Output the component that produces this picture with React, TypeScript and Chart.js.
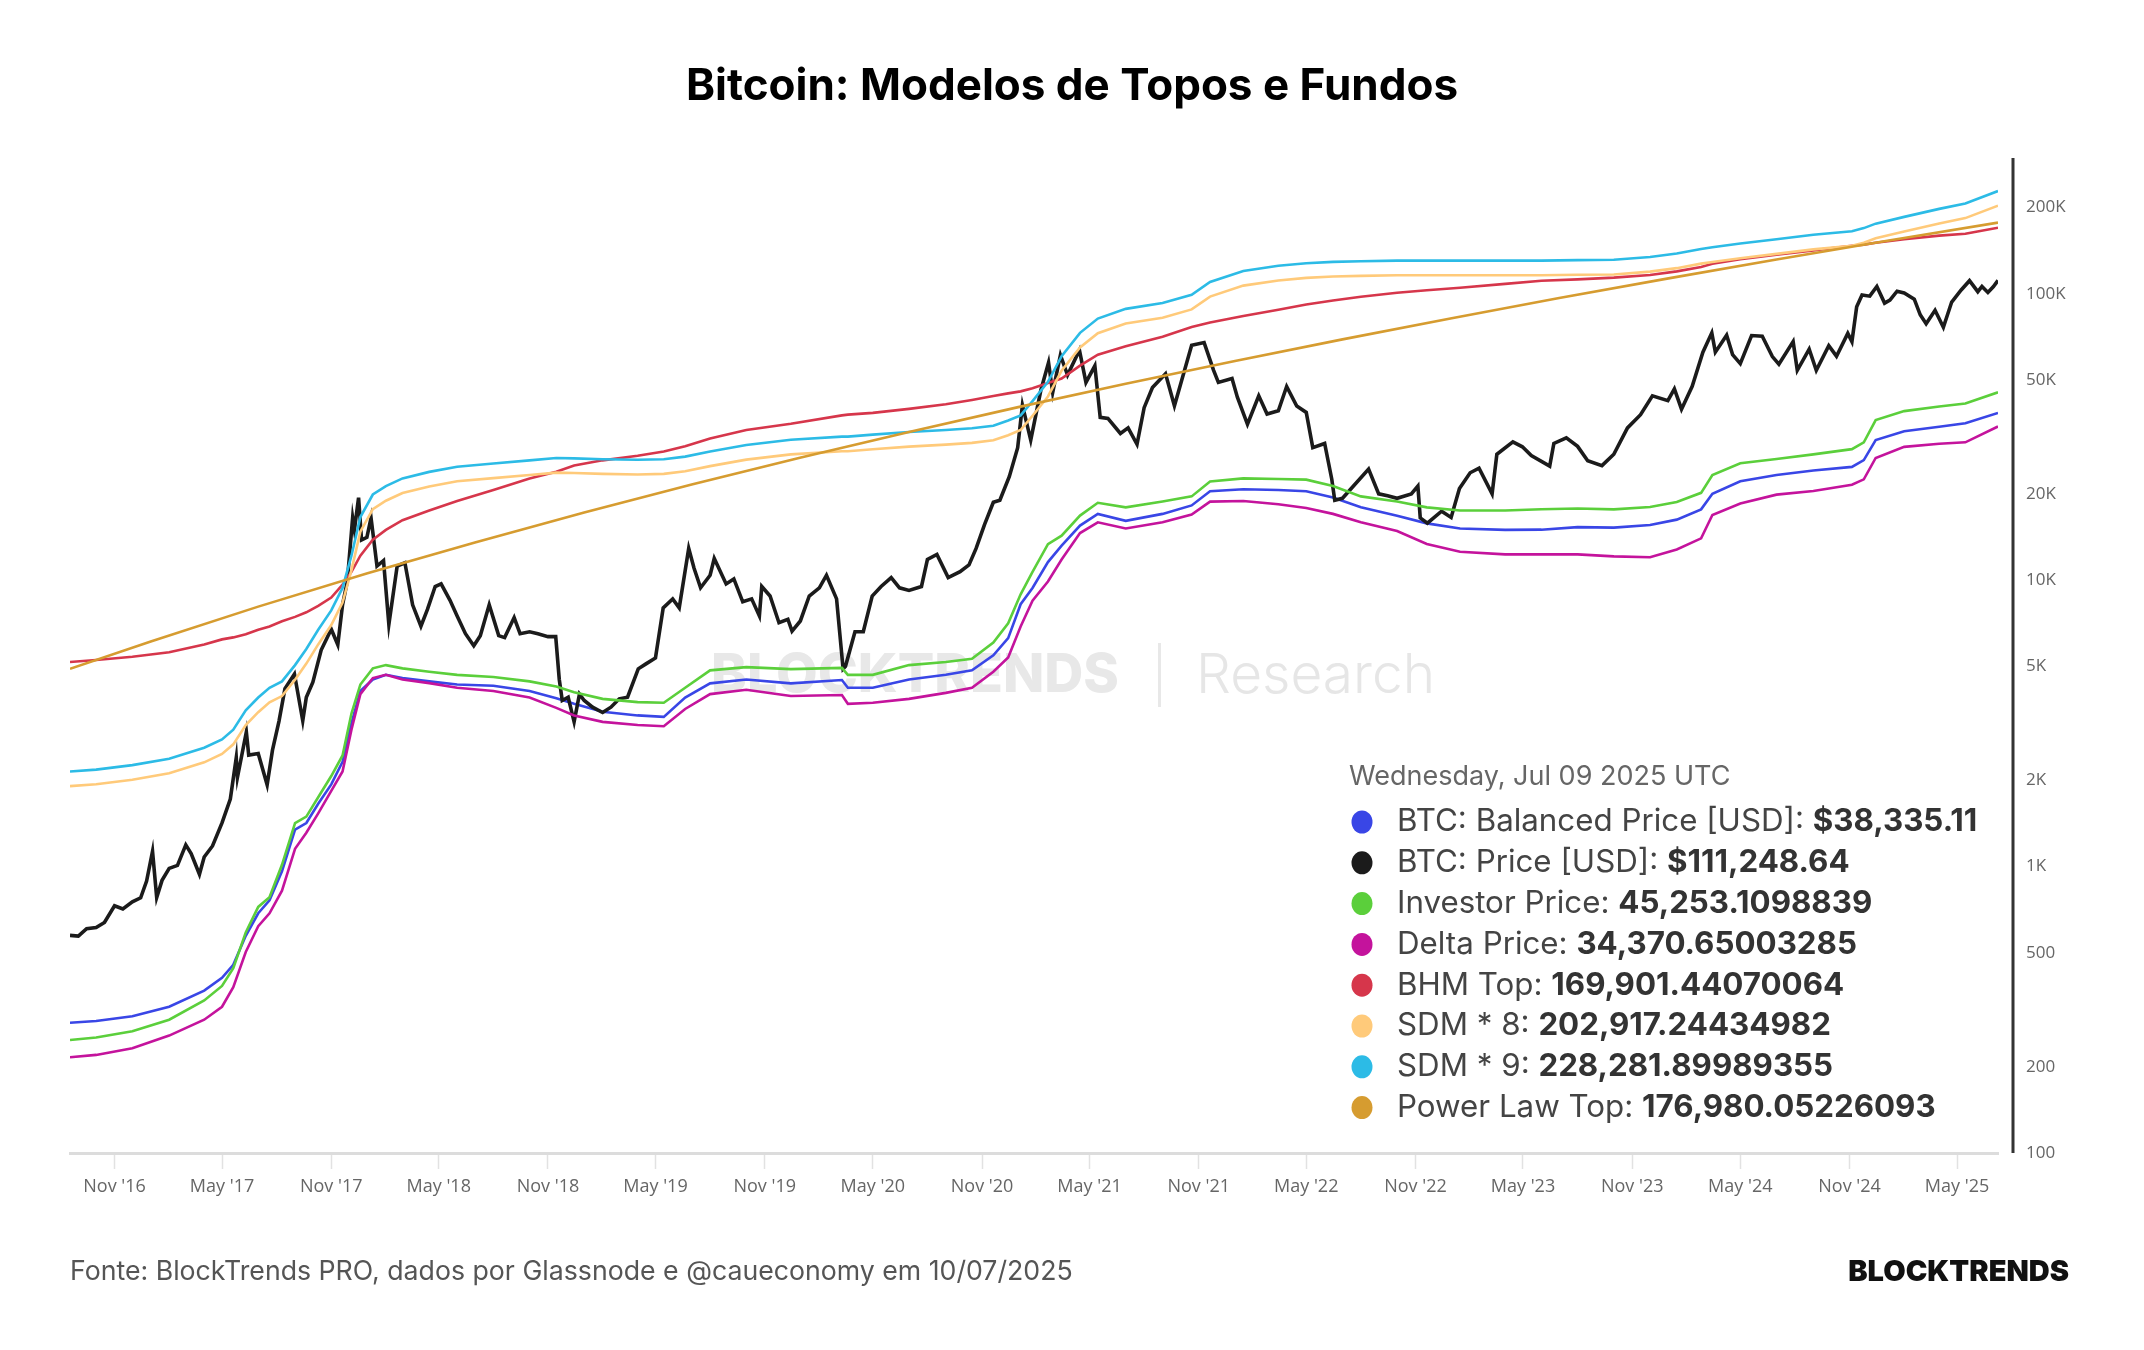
import { useEffect, useRef } from "react";
import { Chart, registerables } from "chart.js";

Chart.register(...registerables);

const W = 2144;
const H = 1350;

// ---------------- BTC spot price (USD) ----------------
const priceDates = [
  "2016-08-18", "2016-09-01", "2016-09-15", "2016-10-01", "2016-10-15", "2016-11-01", "2016-11-15", "2016-12-01", "2016-12-15", "2016-12-25",
  "2017-01-04", "2017-01-11", "2017-01-20", "2017-02-01", "2017-02-15", "2017-03-01", "2017-03-10", "2017-03-24", "2017-04-01", "2017-04-15",
  "2017-05-01", "2017-05-15", "2017-05-25", "2017-05-27", "2017-06-11", "2017-06-15", "2017-07-01", "2017-07-16", "2017-07-25", "2017-08-05",
  "2017-08-15", "2017-08-31", "2017-09-14", "2017-09-20", "2017-10-01", "2017-10-15", "2017-11-01", "2017-11-12", "2017-11-20", "2017-11-28",
  "2017-12-07", "2017-12-10", "2017-12-17", "2017-12-22", "2017-12-31",
  "2018-01-07", "2018-01-17", "2018-01-28", "2018-02-06", "2018-02-20", "2018-03-05", "2018-03-18", "2018-04-01", "2018-04-12", "2018-04-25",
  "2018-05-05", "2018-05-20", "2018-06-01", "2018-06-15", "2018-06-29", "2018-07-10", "2018-07-25", "2018-08-10", "2018-08-20", "2018-09-05",
  "2018-09-15", "2018-10-01", "2018-10-15", "2018-11-01", "2018-11-14", "2018-11-20", "2018-11-25", "2018-12-05", "2018-12-15", "2018-12-24",
  "2019-01-01", "2019-01-15", "2019-02-01", "2019-02-15", "2019-03-01", "2019-03-15", "2019-04-02", "2019-04-15", "2019-05-01", "2019-05-14",
  "2019-05-30", "2019-06-10", "2019-06-26", "2019-07-05", "2019-07-16", "2019-08-01", "2019-08-08", "2019-08-28", "2019-09-10", "2019-09-25",
  "2019-10-10", "2019-10-23", "2019-10-27", "2019-11-10", "2019-11-25", "2019-12-10", "2019-12-17", "2019-12-31",
  "2020-01-15", "2020-02-01", "2020-02-13", "2020-03-01", "2020-03-12", "2020-03-16", "2020-04-01", "2020-04-15", "2020-04-30", "2020-05-15",
  "2020-06-01", "2020-06-15", "2020-07-01", "2020-07-22", "2020-08-01", "2020-08-17", "2020-09-05", "2020-09-25", "2020-10-10", "2020-10-22",
  "2020-11-05", "2020-11-20", "2020-12-01", "2020-12-17", "2020-12-31",
  "2021-01-08", "2021-01-22", "2021-02-08", "2021-02-21", "2021-02-28", "2021-03-13", "2021-03-25", "2021-04-14", "2021-04-25", "2021-05-10",
  "2021-05-19", "2021-06-01", "2021-06-22", "2021-07-05", "2021-07-20", "2021-08-01", "2021-08-15", "2021-09-06", "2021-09-21", "2021-10-01",
  "2021-10-20", "2021-11-10", "2021-11-26", "2021-12-04", "2021-12-27",
  "2022-01-05", "2022-01-22", "2022-02-10", "2022-02-24", "2022-03-15", "2022-03-29", "2022-04-15", "2022-05-01", "2022-05-12", "2022-06-01",
  "2022-06-13", "2022-06-18", "2022-07-01", "2022-07-15", "2022-08-14", "2022-08-31", "2022-09-15", "2022-10-01", "2022-10-25", "2022-11-05",
  "2022-11-09", "2022-11-21", "2022-12-15", "2022-12-31",
  "2023-01-14", "2023-02-01", "2023-02-16", "2023-03-10", "2023-03-18", "2023-04-14", "2023-04-30", "2023-05-15", "2023-06-15", "2023-06-22",
  "2023-07-13", "2023-08-01", "2023-08-18", "2023-09-11", "2023-10-01", "2023-10-24", "2023-11-15", "2023-12-05", "2023-12-31",
  "2024-01-11", "2024-01-23", "2024-02-10", "2024-02-28", "2024-03-14", "2024-03-20", "2024-04-08", "2024-04-18", "2024-05-01", "2024-05-20",
  "2024-06-07", "2024-06-24", "2024-07-05", "2024-07-29", "2024-08-05", "2024-08-25", "2024-09-06", "2024-09-27", "2024-10-10", "2024-10-29",
  "2024-11-05", "2024-11-13", "2024-11-22", "2024-12-05", "2024-12-17", "2024-12-30",
  "2025-01-08", "2025-01-20", "2025-02-01", "2025-02-18", "2025-02-28", "2025-03-10", "2025-03-25", "2025-04-08", "2025-04-22", "2025-05-08",
  "2025-05-22", "2025-06-05", "2025-06-12", "2025-06-22", "2025-07-01", "2025-07-09",
];
const priceValues = [
  575, 572, 607, 613, 638, 730, 711, 753, 778, 890,
  1130, 780, 895, 985, 1010, 1190, 1110, 940, 1080, 1180,
  1420, 1720, 2400, 2050, 2950, 2450, 2480, 1930, 2550, 3220,
  4180, 4700, 3230, 3900, 4400, 5700, 6740, 5950, 8200, 9900,
  16500, 15000, 19400, 13800, 14100,
  16500, 11200, 11700, 7000, 11200, 11500, 8200, 6900, 7900, 9500,
  9700, 8500, 7500, 6500, 5900, 6400, 8200, 6400, 6300, 7400,
  6500, 6600, 6500, 6350, 6350, 4500, 3800, 3900, 3200, 4000,
  3800, 3600, 3450, 3600, 3850, 3900, 4900, 5100, 5350, 8000,
  8600, 8000, 12900, 11000, 9400, 10400, 11900, 9700, 10100, 8400,
  8600, 7500, 9500, 8800, 7100, 7300, 6640, 7200,
  8800, 9400, 10400, 8600, 4900, 5000, 6600, 6600, 8800, 9500,
  10200, 9400, 9200, 9500, 11800, 12300, 10200, 10700, 11300, 12900,
  15600, 18700, 19000, 23000, 29000,
  40800, 30800, 46000, 57500, 45200, 61000, 52000, 63500, 49000, 56000,
  37000, 36700, 32500, 34000, 29800, 40000, 47000, 52500, 40600, 48000,
  66000, 67500, 54000, 49000, 50600,
  43500, 35000, 44000, 38000, 39000, 47400, 40500, 38500, 29000, 30000,
  22500, 19000, 19300, 20800, 24400, 20000, 19700, 19300, 20000, 21300,
  16500, 15800, 17400, 16550,
  20900, 23700, 24600, 20000, 27500, 30400, 29200, 27200, 25000, 30000,
  31400, 29300, 26100, 25100, 27500, 34000, 37800, 44000, 42300,
  46500, 39500, 47500, 62500, 73000, 62500, 71600, 61300, 57000, 71400,
  71000, 60300, 56700, 68000, 54000, 64000, 54000, 65800, 60500, 72700,
  68000, 90000, 98900, 98000, 106000, 92700,
  95000, 102000, 100500, 95700, 84400, 78500, 87500, 76300, 93500, 103000,
  111000, 101600, 106000, 101000, 105700, 111248.64,
];

// ---------------- on-chain model levels (USD) ----------------
const modelDates = [
  "2016-08-18", "2016-10-01", "2016-12-01",
  "2017-02-01", "2017-04-01", "2017-05-01", "2017-05-20", "2017-06-10", "2017-07-01", "2017-07-20", "2017-08-10", "2017-09-01", "2017-09-20", "2017-10-10", "2017-11-01", "2017-11-20", "2017-12-05", "2017-12-20",
  "2018-01-10", "2018-02-01", "2018-03-01", "2018-04-15", "2018-06-01", "2018-08-01", "2018-10-01", "2018-11-15", "2018-12-15",
  "2019-02-01", "2019-04-01", "2019-05-15", "2019-06-20", "2019-08-01", "2019-10-01", "2019-12-15",
  "2020-03-10", "2020-03-20", "2020-05-01", "2020-07-01", "2020-09-01", "2020-10-15", "2020-11-20", "2020-12-15",
  "2021-01-05", "2021-01-25", "2021-02-20", "2021-03-15", "2021-04-15", "2021-05-15", "2021-07-01", "2021-09-01", "2021-10-20", "2021-11-20",
  "2022-01-15", "2022-03-15", "2022-05-01", "2022-06-15", "2022-08-01", "2022-10-01", "2022-11-20",
  "2023-01-15", "2023-04-01", "2023-06-01", "2023-08-01", "2023-10-01", "2023-12-01",
  "2024-01-15", "2024-02-25", "2024-03-15", "2024-05-01", "2024-07-01", "2024-09-01", "2024-11-05", "2024-11-25", "2024-12-15",
  "2025-02-01", "2025-04-01", "2025-05-15", "2025-07-09",
];
const sdm9Values = [
  2148, 2180, 2260,
  2380, 2600, 2780, 3005, 3510, 3890, 4210, 4430, 5050, 5750, 6710, 7840, 9390, 12170, 16600,
  19900, 21300, 22650, 23870, 24890, 25530, 26190, 26700, 26600,
  26430, 26300, 26430, 26980, 28120, 29640, 30900,
  31700, 31700, 32200, 32890, 33420, 33910, 34600, 36060,
  37600, 42170, 49230, 60540, 73000, 81850, 88500, 92700, 99150, 109900,
  120000, 125100, 127700, 129100, 129800, 130400, 130400,
  130400, 130400, 130400, 130900, 131300, 134300,
  138100, 143200, 145200, 149600, 154900, 160600, 165200, 169400, 175600,
  185400, 197700, 206500, 228281.89989355,
];
const sdm8Values = [
  1909, 1938, 2009,
  2116, 2311, 2471, 2671, 3120, 3458, 3742, 3938, 4489, 5111, 5964, 6969, 8347, 10818, 14756,
  17689, 18933, 20133, 21218, 22124, 22693, 23280, 23733, 23644,
  23493, 23378, 23493, 23982, 24996, 26347, 27467,
  28178, 28178, 28622, 29236, 29707, 30142, 30756, 32053,
  33422, 37484, 43760, 53813, 64889, 72756, 78667, 82400, 88133, 97689,
  106667, 111200, 113511, 114756, 115378, 115911, 115911,
  115911, 115911, 115911, 116356, 116711, 119378,
  122756, 127289, 129067, 132978, 137689, 142756, 146844, 150578, 156089,
  164800, 175733, 183556, 202917.24434982,
];
const bhmTopValues = [
  5180, 5260, 5400,
  5600, 5960, 6210, 6310, 6470, 6710, 6890, 7180, 7440, 7720, 8130, 8690, 9640, 10690, 12170,
  13850, 14970, 16190, 17500, 18900, 20640, 22650, 23900, 25120,
  26190, 27160, 28120, 29310, 31200, 33420, 35150,
  37600, 37810, 38370, 39610, 41090, 42560, 43950, 44870,
  45600, 46780, 48750, 50560, 56100, 61240, 65500, 70790, 76560, 79310,
  83560, 87900, 91650, 94600, 97500, 100700, 102800,
  104900, 108200, 110900, 112200, 113800, 116200,
  119600, 124000, 127100, 131800, 136700, 141600, 146900, 148300, 150600,
  154900, 159500, 161800, 169901.44070064,
];
const investorValues = [
  248, 253, 266,
  292, 341, 383, 442, 589, 723, 782, 1014, 1419, 1494, 1746, 2070, 2443, 3420, 4320,
  4920, 5050, 4920, 4790, 4670, 4590, 4430, 4250, 4060,
  3850, 3750, 3730, 4210, 4840, 4970, 4890,
  4940, 4670, 4670, 5050, 5180, 5310, 6050, 7070,
  8920, 10690, 13360, 14300, 16800, 18620, 17950, 18800, 19600, 22080,
  22650, 22540, 22430, 21300, 19600, 18800, 17950,
  17500, 17500, 17680, 17780, 17660, 17990,
  18750, 20170, 23290, 25580, 26490, 27480, 28660, 30270, 36210,
  38910, 40360, 41370, 45253.1098839,
];
const balancedValues = [
  285, 289, 300,
  324, 369, 409, 454, 573, 687, 762, 962, 1346, 1419, 1657, 1936, 2319, 3162, 4100,
  4500, 4670, 4550, 4430, 4320, 4280, 4100, 3870, 3700,
  3470, 3370, 3330, 3890, 4360, 4500, 4360,
  4480, 4210, 4210, 4500, 4670, 4840, 5460, 6270,
  8240, 9390, 11560, 13200, 15500, 17030, 16100, 17030, 18230, 20420,
  20750, 20640, 20420, 19410, 17950, 16780, 15780,
  15140, 14980, 15000, 15310, 15250, 15570,
  16260, 17660, 20030, 22130, 23290, 24150, 24850, 26240, 30830,
  33110, 34290, 35300, 38335.11,
];
const deltaValues = [
  216, 220, 232,
  257, 292, 324, 379, 503, 619, 687, 824, 1153, 1312, 1534, 1837, 2148, 3005, 4000,
  4550, 4670, 4500, 4370, 4210, 4100, 3890, 3580, 3370,
  3200, 3120, 3090, 3550, 4000, 4140, 3940,
  3970, 3700, 3730, 3850, 4040, 4210, 4790, 5370,
  6890, 8470, 9890, 11800, 14600, 15920, 15140, 15920, 16950, 18800,
  18890, 18410, 17860, 17030, 15920, 14830, 13370,
  12560, 12300, 12300, 12300, 12100, 12020,
  12790, 13990, 16870, 18500, 19880, 20460, 21520, 22480, 26690,
  29190, 29920, 30270, 34370.65003285,
];

// ---------------- power-law ceiling (USD) ----------------
const powerLawDates = [
  "2016-08-18", "2017-01-01", "2017-07-01", "2018-01-01", "2018-07-01", "2019-01-01", "2019-07-01",
  "2020-01-01", "2020-07-01", "2021-01-01", "2021-07-01", "2022-01-01", "2022-07-01", "2023-01-01",
  "2023-07-01", "2024-01-01", "2024-07-01", "2025-01-01", "2025-07-09",
];
const powerLawValues = [
  4900, 6110, 8080, 10560, 13540, 17210, 21560,
  26790, 32910, 40170, 48450, 58230, 69250, 82110,
  96520, 113100, 131600, 152700, 176980.05226093,
];

// ---------------- axes ----------------
const xTickDates = [
  "2016-11-01", "2017-05-01", "2017-11-01", "2018-05-01", "2018-11-01", "2019-05-01", "2019-11-01", "2020-05-01", "2020-11-01",
  "2021-05-01", "2021-11-01", "2022-05-01", "2022-11-01", "2023-05-01", "2023-11-01", "2024-05-01", "2024-11-01", "2025-05-01",
];
const xTickLabels = [
  "Nov '16", "May '17", "Nov '17", "May '18", "Nov '18", "May '19", "Nov '19", "May '20", "Nov '20",
  "May '21", "Nov '21", "May '22", "Nov '22", "May '23", "Nov '23", "May '24", "Nov '24", "May '25",
];
const yTickValues = [100, 200, 500, 1000, 2000, 5000, 10000, 20000, 50000, 100000, 200000];
const yTickLabels = ["100", "200", "500", "1K", "2K", "5K", "10K", "20K", "50K", "100K", "200K"];

// ---------------- texts ----------------
const titleText = "Bitcoin: Modelos de Topos e Fundos";
const legendDateText = "Wednesday, Jul 09 2025 UTC";
const sourceText = "Fonte: BlockTrends PRO, dados por Glassnode e @caueconomy em 10/07/2025";
const brandText = "BLOCKTRENDS";
const watermarkBrand = "BLOCKTRENDS";
const watermarkSub = "Research";

type SeriesDef = {
  name: string;
  color: string;
  width: number;
  dates: string[];
  values: number[];
  money?: boolean;
};

const series: SeriesDef[] = [
  { name: "BTC: Balanced Price [USD]", color: "#3946e6", width: 2.6, dates: modelDates, values: balancedValues, money: true },
  { name: "BTC: Price [USD]", color: "#1b1b1b", width: 3.6, dates: priceDates, values: priceValues, money: true },
  { name: "Investor Price", color: "#5bcf3b", width: 2.6, dates: modelDates, values: investorValues },
  { name: "Delta Price", color: "#c4139c", width: 2.6, dates: modelDates, values: deltaValues },
  { name: "BHM Top", color: "#d6364b", width: 2.6, dates: modelDates, values: bhmTopValues },
  { name: "SDM * 8", color: "#ffca7a", width: 2.6, dates: modelDates, values: sdm8Values },
  { name: "SDM * 9", color: "#2cbbe6", width: 2.6, dates: modelDates, values: sdm9Values },
  { name: "Power Law Top", color: "#d69c30", width: 2.6, dates: powerLawDates, values: powerLawValues },
];

const toXY = (dates: string[], values: number[]) => dates.map((d, i) => ({ x: Date.parse(d), y: values[i] }));

const formatValue = (v: number, money?: boolean) =>
  money
    ? "$" + v.toLocaleString("en-US", { minimumFractionDigits: 2, maximumFractionDigits: 2 })
    : v.toLocaleString("en-US", { maximumFractionDigits: 10 });

const SANS = "Inter, 'Noto Sans', sans-serif";
const AXIS_FONT = "'Open Sans', 'Noto Sans', sans-serif";

const decorPlugin = {
  id: "decor",
  beforeDatasetsDraw(chart: any) {
    const ctx: CanvasRenderingContext2D = chart.ctx;
    ctx.save();
    ctx.textBaseline = "middle";
    ctx.textAlign = "left";
    ctx.fillStyle = "#e8e8e8";
    ctx.font = `800 54px ${SANS}`;
    ctx.fillText(watermarkBrand, 711, 676);
    ctx.fillRect(1158, 643, 3, 64);
    ctx.fillStyle = "#e6e6e6";
    ctx.font = `300 55px ${SANS}`;
    ctx.fillText(watermarkSub, 1196, 676);
    ctx.restore();
  },
  afterDraw(chart: any) {
    const ctx: CanvasRenderingContext2D = chart.ctx;
    const area = chart.chartArea;
    ctx.save();

    // right value axis line
    ctx.strokeStyle = "#333333";
    ctx.lineWidth = 3;
    ctx.beginPath();
    ctx.moveTo(area.right + 15, area.top + 1);
    ctx.lineTo(area.right + 15, area.bottom);
    ctx.stroke();

    // title
    ctx.fillStyle = "#000";
    ctx.textAlign = "center";
    ctx.textBaseline = "middle";
    ctx.font = `700 44px ${SANS}`;
    ctx.fillText(titleText, W / 2, 87);

    // legend block
    ctx.textAlign = "left";
    ctx.fillStyle = "#666";
    ctx.font = `400 27px ${SANS}`;
    ctx.fillText(legendDateText, 1349, 777);
    chart.data.datasets.forEach((ds: any, i: number) => {
      const s = series[i];
      const y = 822 + i * 40.8;
      ctx.fillStyle = s.color;
      ctx.beginPath();
      ctx.ellipse(1362, y, 10.5, 11.5, 0, 0, Math.PI * 2);
      ctx.fill();
      const label = s.name + ": ";
      ctx.font = `400 31.3px ${SANS}`;
      ctx.fillStyle = "#444";
      ctx.fillText(label, 1397, y);
      const lw = ctx.measureText(label).width;
      ctx.font = `700 31.3px ${SANS}`;
      ctx.fillStyle = "#333";
      const last = ds.data[ds.data.length - 1].y;
      ctx.fillText(formatValue(last, s.money), 1397 + lw, y);
    });

    // footer
    ctx.fillStyle = "#555";
    ctx.font = `400 26.7px ${SANS}`;
    ctx.fillText(sourceText, 70, 1272);
    ctx.fillStyle = "#111";
    ctx.font = `900 29px ${SANS}`;
    ctx.textAlign = "right";
    ctx.fillText(brandText, 2069, 1272);

    ctx.restore();
  },
};

export default function App() {
  const ref = useRef<HTMLCanvasElement>(null);

  useEffect(() => {
    const canvas = ref.current;
    if (!canvas) return;
    const xTicks = xTickDates.map((d) => Date.parse(d));

    const chart = new Chart(canvas, {
      type: "line",
      data: {
        datasets: series.map((s, i) => ({
          label: s.name,
          data: toXY(s.dates, s.values),
          borderColor: s.color,
          backgroundColor: s.color,
          borderWidth: s.width,
          pointRadius: 0,
          tension: 0,
          fill: false,
          order: series.length - i,
        })),
      },
      options: {
        animation: false,
        responsive: false,
        devicePixelRatio: 1,
        events: [],
        layout: { padding: { top: 157, left: 70, right: 0, bottom: 0 } },
        plugins: {
          legend: { display: false },
          tooltip: { enabled: false },
          title: { display: false },
        },
        scales: {
          x: {
            type: "linear",
            min: Date.parse(priceDates[0]),
            max: Date.parse(priceDates[priceDates.length - 1]),
            afterBuildTicks: (scale: any) => {
              scale.ticks = xTicks.map((v) => ({ value: v }));
            },
            afterFit: (scale: any) => {
              scale.height = H - 1153;
            },
            grid: {
              display: true,
              drawOnChartArea: false,
              drawTicks: true,
              tickLength: 16,
              tickColor: "#e2e2e2",
              tickWidth: 1.5,
            },
            border: { display: true, color: "#dcdcdc", width: 3 },
            ticks: {
              autoSkip: false,
              maxRotation: 0,
              padding: 7,
              color: "#666",
              font: { family: AXIS_FONT, size: 18 },
              callback: (_v: any, i: number) => xTickLabels[i],
            },
          },
          y: {
            type: "logarithmic",
            position: "right",
            min: 100,
            max: 300000,
            afterBuildTicks: (scale: any) => {
              scale.ticks = yTickValues.map((v) => ({ value: v }));
            },
            afterFit: (scale: any) => {
              scale.width = 146;
            },
            grid: { display: false, drawTicks: false },
            border: { display: false },
            ticks: {
              padding: 28,
              color: "#666",
              font: { family: AXIS_FONT, size: 17 },
              callback: (_v: any, i: number) => yTickLabels[i],
            },
          },
        },
      } as any,
      plugins: [decorPlugin],
    });

    return () => chart.destroy();
  }, []);

  return (
    <div style={{ position: "fixed", left: 0, top: 0, width: W, height: H, background: "#ffffff" }}>
      <canvas ref={ref} width={W} height={H} style={{ display: "block", width: W, height: H }} />
    </div>
  );
}
